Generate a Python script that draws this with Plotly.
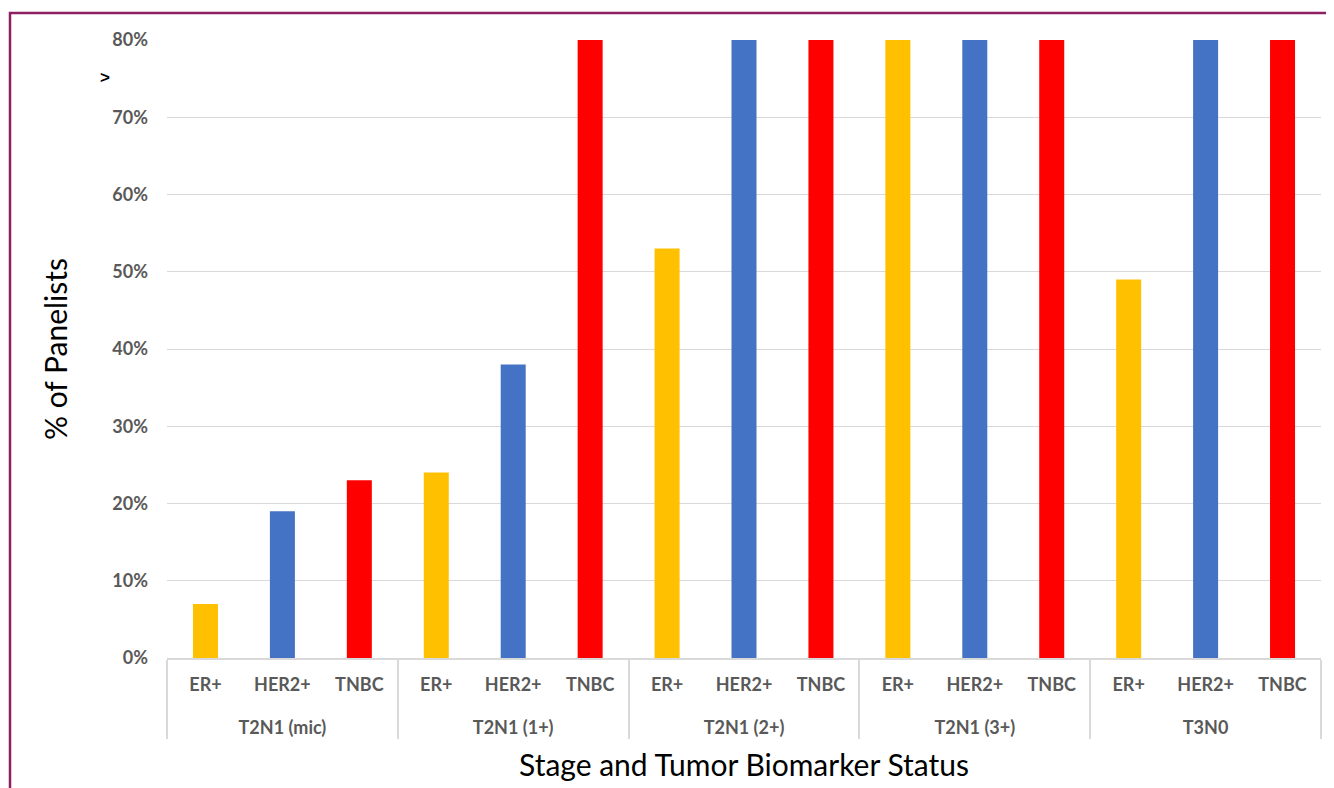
import plotly.graph_objects as go

stages = ["T2N1 (mic)", "T2N1 (1+)", "T2N1 (2+)", "T2N1 (3+)", "T3N0"]
biomarkers = ["ER+", "HER2+", "TNBC"]
# % of panelists; values above 80% are cut off by the axis in the original
er_vals = [7, 24, 53, 85, 49]
her2_vals = [19, 38, 88, 90, 86]
tnbc_vals = [23, 84, 92, 95, 90]
colors = {"ER+": "#FFC000", "HER2+": "#4472C4", "TNBC": "#FF0000"}
y_ticks = [0, 10, 20, 30, 40, 50, 60, 70, 80]
y_tick_labels = ["0%", "10%", "20%", "30%", "40%", "50%", "60%", "70%", "80%"]

lvl1, lvl2, vals, cols = [], [], [], []
series = {"ER+": er_vals, "HER2+": her2_vals, "TNBC": tnbc_vals}
for i, s in enumerate(stages):
    for b in biomarkers:
        lvl1.append(s)
        lvl2.append(b + "<br><span style='font-size:42px'> </span>")
        vals.append(series[b][i])
        cols.append(colors[b])

fig = go.Figure(go.Bar(x=[lvl1, lvl2], y=vals, marker=dict(color=cols, line=dict(width=0)),
                       showlegend=False))

# page is offset by the 8px body margin
OFF = 8
W, H = 1334 - OFF, 788 - OFF
L, R, T, B = 167 - OFF, 1334 - 1321, 40 - OFF, 788 - 658
pw, ph = W - L - R, H - T - B

def px_x(x):
    return (x - OFF - L) / pw

def px_y(y):
    return (H - B - (y - OFF)) / ph

fig.update_layout(
    width=W, height=H,
    margin=dict(l=L, r=R, t=T, b=B),
    paper_bgcolor="white", plot_bgcolor="white",
    bargap=0.675,
    font=dict(family="Lato, Open Sans, sans-serif", color="#595959"),
    xaxis=dict(
        type="multicategory",
        tickfont=dict(size=18, color="#595959", family="Lato, sans-serif", weight="bold"),
        showline=True, linecolor="#D9D9D9", linewidth=1.5,
        showdividers=True, dividercolor="#D9D9D9", dividerwidth=1.5,
        ticks="", showgrid=False, ticklabelstandoff=10,
        title=dict(text="Stage and Tumor Biomarker Status",
                   font=dict(size=30, color="black", family="Lato, sans-serif"), standoff=18),
    ),
    yaxis=dict(
        range=[0, 80], tickvals=y_ticks, ticktext=y_tick_labels,
        tickfont=dict(size=18, color="#595959", family="Lato, sans-serif", weight="bold"),
        showgrid=True, gridcolor="#D9D9D9", gridwidth=1,
        zeroline=False, ticks="", ticklabelstandoff=18,
        title=dict(text="% of Panelists",
                   font=dict(size=30, color="black", family="Lato, sans-serif"), standoff=35),
    ),
    shapes=[dict(type="rect", xref="paper", yref="paper",
                 x0=px_x(10), x1=px_x(1400),
                 y0=px_y(900), y1=px_y(13),
                 line=dict(color="#8E1F63", width=2.5), fillcolor="rgba(0,0,0,0)")],
    annotations=[dict(text="<b>></b>", xref="paper", yref="paper",
                      x=px_x(98), y=px_y(66), showarrow=False,
                      font=dict(size=17, color="black", family="Liberation Sans, sans-serif"))],
)

fig.write_html("out.html")
